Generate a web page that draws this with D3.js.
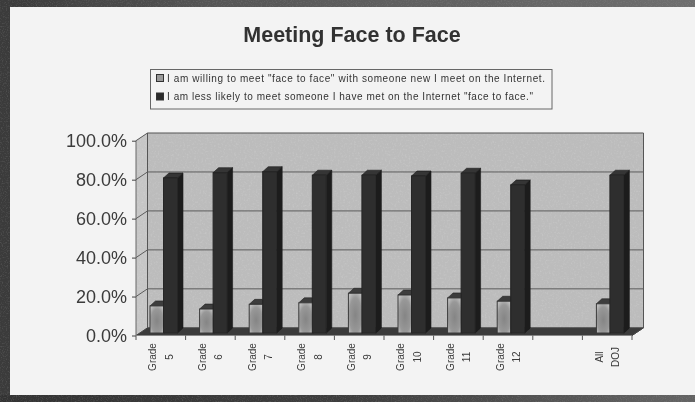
<!DOCTYPE html>
<html><head><meta charset="utf-8">
<script src="https://cdn.jsdelivr.net/npm/d3@7"></script>
<style>
html,body{margin:0;padding:0;background:#f2f2f2}
svg{display:block;font-family:"Liberation Sans",Arial,sans-serif}
</style></head><body><div id="chart"></div>
<script>
const title = "Meeting Face to Face";
const categories = ["Grade 5","Grade 6","Grade 7","Grade 8","Grade 9","Grade 10","Grade 11","Grade 12"," ","All DOJ"];
const willing = [13.9,12.3,14.7,15.5,20.4,19.5,18,16.3,null,15];
const lessLikely = [79.6,82.3,82.8,81,81,80.6,82,76,null,81];
const seriesNames = ["I am willing to meet \"face to face\" with someone new I meet on the Internet.",
  "I am less likely to meet someone I have met on the Internet \"face to face.\""];
const yTicks = [0,20,40,60,80,100];

const W=695,H=402;
const svg=d3.select("#chart").append("svg").attr("width",W).attr("height",H);
const defs=svg.append("defs");
const soft=defs.append("filter").attr("id","soft");
soft.append("feGaussianBlur").attr("stdDeviation",0.45);
function noiseFilter(id,freq,amount,seed){
  const f=defs.append("filter").attr("id",id).attr("x",0).attr("y",0).attr("width","100%").attr("height","100%");
  f.append("feTurbulence").attr("type","fractalNoise").attr("baseFrequency",freq).attr("numOctaves",2).attr("seed",seed).attr("result","n");
  f.append("feColorMatrix").attr("in","n").attr("type","matrix")
    .attr("values","1.6 0 0 0 -0.8 1.6 0 0 0 -0.8 1.6 0 0 0 -0.8 0 0 0 0 1").attr("result","m");
  f.append("feComposite").attr("in","SourceGraphic").attr("in2","m").attr("operator","arithmetic")
    .attr("k1",0).attr("k2",1).attr("k3",amount).attr("k4",0).attr("result","o");
  f.append("feComposite").attr("in","o").attr("in2","SourceGraphic").attr("operator","in");
}
noiseFilter("noise",0.8,0.07,7);
noiseFilter("wall",0.55,0.09,3);

const grad=defs.append("radialGradient").attr("id","gbar").attr("cx","50%").attr("cy","55%").attr("r","62%");
[[0,"#858585"],[70,"#989898"],[100,"#bcbcbc"]].forEach(s=>grad.append("stop").attr("offset",s[0]+"%").attr("stop-color",s[1]));
const fr=defs.append("linearGradient").attr("id","frame");
[[0,"#3a3a3a"],[30,"#555"],[100,"#6e6e6e"]].forEach(s=>fr.append("stop").attr("offset",s[0]+"%").attr("stop-color",s[1]));
const fb=defs.append("linearGradient").attr("id","frameB");
[[0,"#333"],[50,"#3e3e3e"],[100,"#646464"]].forEach(s=>fb.append("stop").attr("offset",s[0]+"%").attr("stop-color",s[1]));

// page and scanned frame
svg.append("rect").attr("width",W).attr("height",8).attr("fill","url(#frame)").attr("filter","url(#noise)");
svg.append("rect").attr("y",394).attr("width",W).attr("height",8).attr("fill","url(#frameB)").attr("filter","url(#noise)");
svg.append("rect").attr("y",7).attr("width",11).attr("height",388).attr("fill","#3a3a3a").attr("filter","url(#noise)");
svg.append("rect").attr("x",10).attr("y",7).attr("width",W-10).attr("height",388).attr("fill","#f3f3f3");

const g=svg.append("g").attr("filter","url(#soft)");

const x=d3.scaleBand().domain(categories).range([136,632]);
const y=d3.scaleLinear().domain([0,100]).range([335.5,140.7]);
const dx=11.5,dy=7.7;
const line=d3.line();

// walls and floor
const [x0,x1]=x.range(), y0=y(0), y100=y(100);
g.append("path").attr("d",line([[x0+dx,y100-dy],[x1+dx,y100-dy],[x1+dx,y0-dy],[x0+dx,y0-dy]])+"Z")
  .attr("fill","#bcbcbc").attr("filter","url(#wall)");
g.append("path").attr("d",line([[x0,y100],[x0+dx,y100-dy],[x0+dx,y0-dy],[x0,y0]])+"Z")
  .attr("fill","#c6c6c6").attr("filter","url(#wall)");
g.append("path").attr("d",line([[x0,y100],[x0+dx,y100-dy],[x1+dx,y100-dy],[x1+dx,y0-dy],[x1,y0]])).attr("fill","none").attr("stroke","#555");
g.append("path").attr("d",line([[x0+dx,y100-dy],[x0+dx,y0-dy]])).attr("stroke","#555");
g.append("path").attr("d",line([[x0,y100],[x0,y0]])).attr("stroke","#666");
g.append("path").attr("d",line([[x0,y0],[x1,y0],[x1+dx,y0-dy],[x0+dx,y0-dy]])+"Z")
  .attr("fill","#3a3a3a").attr("stroke","#444");

// gridlines
const grid=g.append("g").attr("fill","none").attr("stroke","#5c5c5c").attr("stroke-width",1);
yTicks.filter(t=>t>0&&t<100).forEach(t=>{
  grid.append("path").attr("d",line([[x0,y(t)],[x0+dx,y(t)-dy],[x1+dx,y(t)-dy]]));
});

// bars
const offGray=14, offDark=27.5, bw=14, bx=5.5, by=5, lift=2.5;
function bar(parent,left,val,c){
  const b=y(0)-lift, t=y(val)-lift, r=left+bw;
  parent.append("path").attr("d",line([[r,t],[r+bx,t-by],[r+bx,b-by],[r,b]])+"Z").attr("fill",c.side).attr("stroke",c.stroke).attr("stroke-width",.6);
  parent.append("path").attr("d",line([[left,t],[left+bx,t-by],[r+bx,t-by],[r,t]])+"Z").attr("fill",c.top).attr("stroke",c.stroke).attr("stroke-width",.6);
  parent.append("rect").attr("x",left).attr("y",t).attr("width",bw).attr("height",b-t).attr("fill",c.front).attr("stroke",c.edge).attr("stroke-width",1);
}
const barsG=g.append("g");
categories.forEach((c,i)=>{
  if(willing[i]==null) return;
  const s=x(c);
  bar(barsG,s+offGray,willing[i],{front:"url(#gbar)",side:"#333",top:"#3c3c3c",stroke:"#222",edge:"#3a3a3a"});
  bar(barsG,s+offDark,lessLikely[i],{front:"#2d2d2d",side:"#1c1c1c",top:"#343434",stroke:"#1a1a1a",edge:"#262626"});
});

// y axis
const yAxis=d3.axisLeft(y).tickValues(yTicks).tickFormat(d=>d3.format(".1f")(d)+"%").tickSize(4).tickPadding(5);
const ya=g.append("g").attr("transform",`translate(${x0},0)`).call(yAxis);
ya.select(".domain").remove();
ya.selectAll("line").attr("stroke","#444");
ya.selectAll("text").attr("font-size",18).attr("fill","#3a3a3a").attr("font-family","'Liberation Sans',Arial,sans-serif");

// x axis
const xa=g.append("g").attr("stroke","#555");
xa.append("path").attr("d",line([[x0,y0],[x1,y0]])).attr("fill","none").attr("stroke","#888");
const edges=categories.map(c=>x(c)).concat([x1]);
xa.selectAll("line").data(edges).join("line").attr("x1",d=>d).attr("x2",d=>d).attr("y1",y0).attr("y2",y0+4.5);

const xl=g.append("g").attr("font-size",10).attr("fill","#3a3a3a").attr("text-anchor","middle");
categories.forEach(c=>{
  const parts=c.trim().split(" ");
  if(parts.length<2) return;
  const cx=x(c)+x.bandwidth()/2;
  parts.forEach((p,i)=>{
    const tx=cx-8+i*16.5;
    xl.append("text").attr("transform",`translate(${tx},357) rotate(-90)`).attr("dy","0.35em").text(p);
  });
});

// title
g.append("text").attr("x",352).attr("y",42).attr("text-anchor","middle").attr("font-size",21.5).attr("font-weight","bold").attr("fill","#333").text(title);

// legend
g.append("rect").attr("x",150.5).attr("y",69.5).attr("width",401.5).attr("height",39.5).attr("fill","none").attr("stroke","#666");
const swatch=["#9a9a9a","#2b2b2b"], ly=[78,96.5], lenT=[378,366];
seriesNames.forEach((n,i)=>{
  g.append("rect").attr("x",156.5).attr("y",ly[i]-3.5).attr("width",7).attr("height",7).attr("fill",swatch[i]).attr("stroke","#333");
  g.append("text").attr("x",167).attr("y",ly[i]).attr("dy","0.35em").attr("font-size",10).attr("fill","#333")
    .attr("textLength",lenT[i]).attr("lengthAdjust","spacing").text(n);
});
</script></body></html>
